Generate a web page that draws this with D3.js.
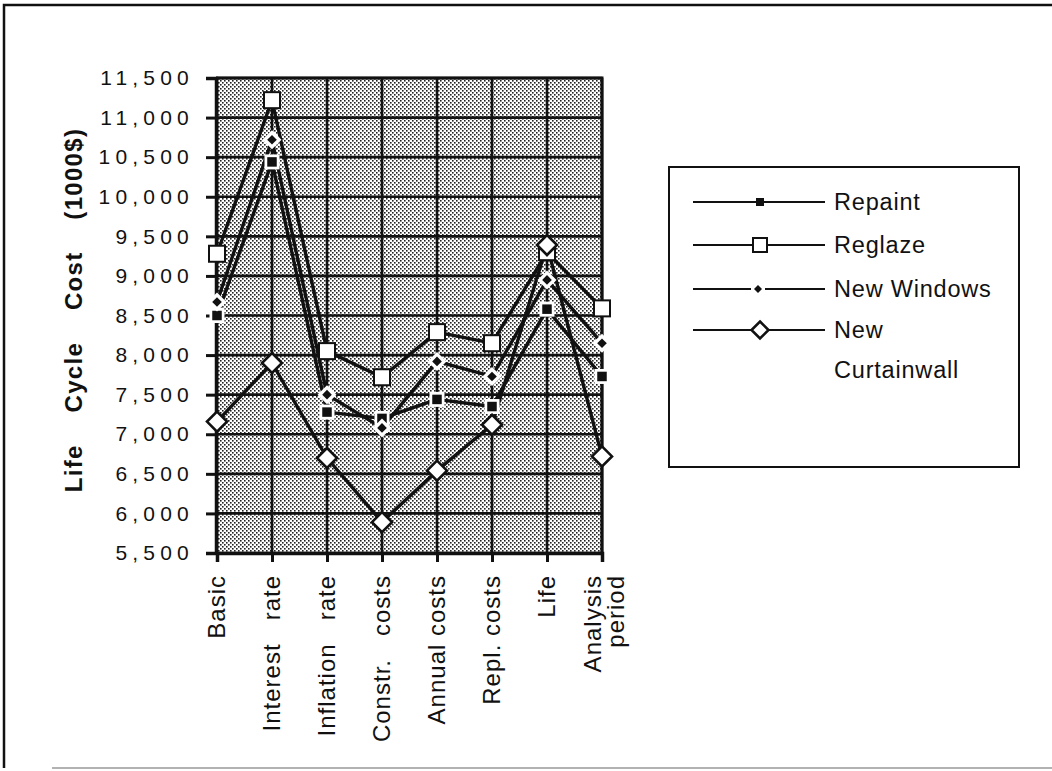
<!DOCTYPE html>
<html>
<head>
<meta charset="utf-8">
<script src="https://cdn.jsdelivr.net/npm/d3@7"></script>
<style>
  html, body { margin: 0; padding: 0; background: #fff; }
  svg { display: block; }
  text { font-family: "Liberation Sans", Arial, Helvetica, sans-serif; fill: #111; }
</style>
</head>
<body>
<svg id="chart" width="1052" height="771"></svg>
<script>
// Sensitivity factors (x axis) – each label may span several lines
const categories = ["Basic", "Interest rate", "Inflation rate", "Constr. costs",
                    "Annual costs", "Repl. costs", "Life", "Analysis period"];
const categoryLabels = [["Basic"], ["Interest   rate"], ["Inflation   rate"], ["Constr.   costs"],
                        ["Annual costs"], ["Repl. costs"], ["Life"], ["Analysis", "period"]];

// Life cycle cost per option (1000$)
const repaint     = [8500, 10440, 7280, 7200, 7440, 7350, 8580, 7730];
const reglaze     = [9280, 11220, 8050, 7720, 8290, 8150, 9300, 8590];
const newWindows  = [8670, 10720, 7500, 7080, 7920, 7730, 8950, 8150];
const curtainwall = [7160, 7900, 6700, 5890, 6540, 7120, 9390, 6720];

const seriesNames = ["Repaint", "Reglaze", "New Windows", "New Curtainwall"];
const legendLabels = [["Repaint"], ["Reglaze"], ["New Windows"], ["New", "Curtainwall"]];

// y axis ticks
const yTicks = [5500, 6000, 6500, 7000, 7500, 8000, 8500, 9000, 9500, 10000, 10500, 11000, 11500];
const yTitle = "Life    Cycle    Cost    (1000$)";

const series = [
  { name: seriesNames[0], values: repaint,     marker: "fillSquare" },
  { name: seriesNames[1], values: reglaze,     marker: "openSquare" },
  { name: seriesNames[2], values: newWindows,  marker: "fillDiamond" },
  { name: seriesNames[3], values: curtainwall, marker: "openDiamond" }
];

const svg = d3.select("#chart");

// page frame
svg.append("path").attr("d", "M4,768 L4,5 L1052,5").attr("fill", "none")
  .attr("stroke", "#111").attr("stroke-width", 2.5);
svg.append("line").attr("x1", 52).attr("x2", 1052).attr("y1", 768).attr("y2", 768)
  .attr("stroke", "#999").attr("stroke-width", 1.5);

const plot = { left: 216, right: 602, top: 78, bottom: 553 };
const x = d3.scalePoint().domain(categories).range([plot.left + 1, plot.right]);
const y = d3.scaleLinear().domain([5500, 11500]).range([plot.bottom, plot.top]);

// stippled background
const defs = svg.append("defs");
const pat = defs.append("pattern").attr("id", "stipple").attr("patternUnits", "userSpaceOnUse")
  .attr("width", 4).attr("height", 4);
pat.append("rect").attr("width", 4).attr("height", 4).attr("fill", "#fff");
pat.append("rect").attr("x", 0).attr("y", 0).attr("width", 1.6).attr("height", 1.6).attr("fill", "#222");
pat.append("rect").attr("x", 2).attr("y", 2).attr("width", 1.6).attr("height", 1.6).attr("fill", "#222");

svg.append("rect").attr("x", plot.left).attr("y", plot.top)
  .attr("width", plot.right - plot.left).attr("height", plot.bottom - plot.top)
  .attr("fill", "url(#stipple)");

// grid
const grid = svg.append("g").attr("stroke", "#111").attr("stroke-width", 2.6);
grid.selectAll("line.h").data(yTicks).join("line").attr("class", "h")
  .attr("x1", plot.left).attr("x2", plot.right).attr("y1", d => y(d)).attr("y2", d => y(d));
grid.selectAll("line.v").data(categories).join("line").attr("class", "v")
  .attr("x1", d => x(d)).attr("x2", d => x(d)).attr("y1", plot.top).attr("y2", plot.bottom);

// axes
const yAxis = svg.append("g").attr("transform", `translate(${plot.left},0)`)
  .call(d3.axisLeft(y).tickValues(yTicks).tickSize(10).tickPadding(12).tickFormat(d3.format(",")));
yAxis.select(".domain").attr("stroke", "#111").attr("stroke-width", 3.5);
yAxis.selectAll(".tick line").attr("stroke", "#111").attr("stroke-width", 3);
yAxis.selectAll(".tick text").attr("font-size", 21).style("letter-spacing", "5.2px")
  .attr("font-family", "'Liberation Sans', Arial, sans-serif").attr("fill", "#111");

const xAxis = svg.append("g").attr("transform", `translate(0,${plot.bottom})`)
  .call(d3.axisBottom(x).tickSize(9).tickFormat(""));
xAxis.select(".domain").attr("stroke", "#111").attr("stroke-width", 3.5);
xAxis.selectAll(".tick line").attr("stroke", "#111").attr("stroke-width", 3);

// right and top frame of plot
svg.append("path")
  .attr("d", `M${plot.left},${plot.top} L${plot.right},${plot.top} L${plot.right},${plot.bottom}`)
  .attr("fill", "none").attr("stroke", "#111").attr("stroke-width", 3);

// rotated category labels
categories.forEach((c, i) => {
  const lines = categoryLabels[i];
  const n = lines.length;
  lines.forEach((ln, j) => {
    const cx = n > 1 ? x(c) - 9 + j * 23 : x(c);
    svg.append("text")
      .attr("transform", `translate(${cx},575) rotate(-90)`)
      .attr("text-anchor", "end").attr("dy", "0.35em")
      .attr("font-size", 24).style("white-space", "pre").style("letter-spacing", "1px")
      .text(ln);
  });
});

// y title
svg.append("text")
  .attr("transform", "translate(82,310) rotate(-90)")
  .attr("text-anchor", "middle").attr("font-size", 24).attr("font-weight", "bold")
  .style("white-space", "pre").style("letter-spacing", "1.3px")
  .text(yTitle);

// marker drawing
function drawMarker(g, type, cx, cy, inLegend) {
  if (type === "openSquare") {
    const s = inLegend ? 14 : 16;
    g.append("rect").attr("x", cx - s / 2).attr("y", cy - s / 2).attr("width", s).attr("height", s)
      .attr("fill", "#fff").attr("stroke", "#111").attr("stroke-width", 2);
  } else if (type === "fillSquare") {
    if (!inLegend) {
      g.append("rect").attr("x", cx - 7.5).attr("y", cy - 7.5).attr("width", 15).attr("height", 15).attr("fill", "#fff");
    }
    const s = inLegend ? 8 : 9.5;
    g.append("rect").attr("x", cx - s / 2).attr("y", cy - s / 2).attr("width", s).attr("height", s).attr("fill", "#111");
  } else if (type === "fillDiamond") {
    if (!inLegend) {
      const r = 9.5;
      g.append("path").attr("d", `M${cx},${cy - r} L${cx + r},${cy} L${cx},${cy + r} L${cx - r},${cy} Z`).attr("fill", "#fff");
    }
    const r = inLegend ? 4 : 4.8;
    g.append("path").attr("d", `M${cx},${cy - r} L${cx + r},${cy} L${cx},${cy + r} L${cx - r},${cy} Z`).attr("fill", "#111");
  } else {
    const r = inLegend ? 8.5 : 10;
    g.append("path").attr("d", `M${cx},${cy - r} L${cx + r},${cy} L${cx},${cy + r} L${cx - r},${cy} Z`)
      .attr("fill", "#fff").attr("stroke", "#111").attr("stroke-width", 2.6);
  }
}

// series lines
const line = d3.line().x((d, i) => x(categories[i])).y(d => y(d));
const linesG = svg.append("g");
series.forEach(s => {
  linesG.append("path").datum(s.values).attr("d", line)
    .attr("fill", "none").attr("stroke", "#111").attr("stroke-width", 3.4).attr("stroke-linejoin", "round");
});
// series markers
const markG = svg.append("g");
series.forEach(s => {
  s.values.forEach((v, i) => drawMarker(markG, s.marker, x(categories[i]), y(v), false));
});

// legend
const lg = svg.append("g");
lg.append("rect").attr("x", 669).attr("y", 167).attr("width", 350).attr("height", 300)
  .attr("fill", "#fff").attr("stroke", "#111").attr("stroke-width", 2);
const legendY = [202, 245, 289, 330];
series.forEach((s, i) => {
  const ly = legendY[i];
  lg.append("line").attr("x1", 693).attr("x2", 825).attr("y1", ly).attr("y2", ly)
    .attr("stroke", "#111").attr("stroke-width", 1.8);
  const mx = s.marker === "fillDiamond" ? 758 : 760;
  if (s.marker === "fillDiamond") {
    lg.append("rect").attr("x", mx - 7).attr("y", ly - 3).attr("width", 14).attr("height", 6).attr("fill", "#fff");
  }
  drawMarker(lg, s.marker, mx, ly, true);
  legendLabels[i].forEach((t, j) => {
    lg.append("text").attr("x", 834).attr("y", ly + j * 40).attr("dy", "0.36em")
      .attr("font-size", 23.5).style("letter-spacing", "0.8px").text(t);
  });
});
</script>
</body>
</html>
